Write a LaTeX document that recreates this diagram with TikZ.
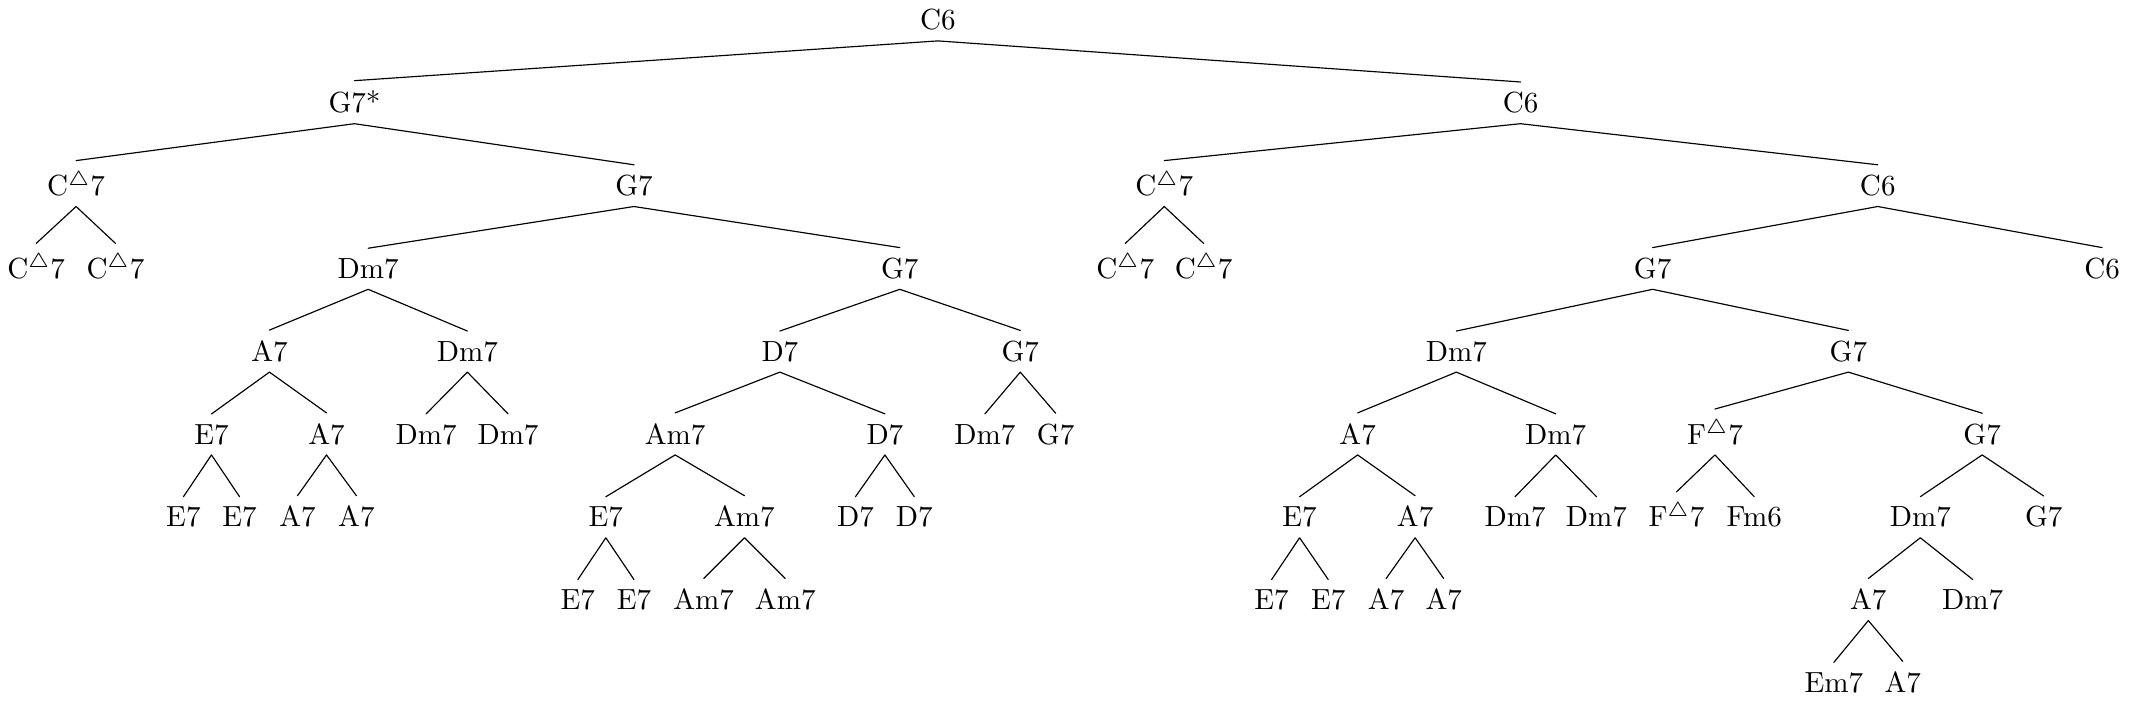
\documentclass[tikz,border=0pt]{standalone}
\usepackage{amsmath,amssymb}
\begin{document}
\begin{tikzpicture}[line cap=round,line join=round,chord/.style={anchor=base}]
\useasboundingbox (0,0.362) rectangle (25.71,-8.116);
% root and upper levels
\node[chord] (c) at (11.326,0) {C6};
\node[chord] (cl) at (4.281,-1) {G7*};
\node[chord] (cr) at (18.362,-1) {C6};
\node[chord] (cll) at (0.919,-2) {C$^\triangle$7};
\node[chord] (clr) at (7.656,-2) {G7};
\node[chord] (crl) at (14.060,-2) {C$^\triangle$7};
\node[chord] (crr) at (22.676,-2) {C6};
\node[chord] (clll) at (0.437,-3) {C$^\triangle$7};
\node[chord] (cllr) at (1.395,-3) {C$^\triangle$7};
\node[chord] (clrl) at (4.446,-3) {Dm7};
\node[chord] (clrr) at (10.866,-3) {G7};
\node[chord] (crll) at (13.589,-3) {C$^\triangle$7};
\node[chord] (crlr) at (14.535,-3) {C$^\triangle$7};
\node[chord] (crrl) at (19.957,-3) {G7};
\node[chord] (crrr) at (25.385,-3) {C6};
% left half
\node[chord] (clrll) at (3.254,-4) {A7};
\node[chord] (clrlr) at (5.644,-4) {Dm7};
\node[chord] (clrrl) at (9.418,-4) {D7};
\node[chord] (clrrr) at (12.321,-4) {G7};
\node[chord] (clrlll) at (2.554,-5) {E7};
\node[chord] (clrllr) at (3.943,-5) {A7};
\node[chord] (clrlrl) at (5.146,-5) {Dm7};
\node[chord] (clrlrr) at (6.135,-5) {Dm7};
\node[chord] (clrrll) at (8.153,-5) {Am7};
\node[chord] (clrrlr) at (10.686,-5) {D7};
\node[chord] (clrrrl) at (11.894,-5) {Dm7};
\node[chord] (clrrrr) at (12.748,-5) {G7};
\node[chord] (clrllll) at (2.215,-6) {E7};
\node[chord] (clrlllr) at (2.893,-6) {E7};
\node[chord] (clrllrl) at (3.593,-6) {A7};
\node[chord] (clrllrr) at (4.304,-6) {A7};
\node[chord] (clrrlll) at (7.316,-6) {E7};
\node[chord] (clrrllr) at (8.990,-6) {Am7};
\node[chord] (clrrlrl) at (10.331,-6) {D7};
\node[chord] (clrrlrr) at (11.041,-6) {D7};
\node[chord] (clrrllll) at (6.978,-7) {E7};
\node[chord] (clrrlllr) at (7.656,-7) {E7};
\node[chord] (clrrllrl) at (8.498,-7) {Am7};
\node[chord] (clrrllrr) at (9.483,-7) {Am7};
% right half
\node[chord] (crrll) at (17.587,-4) {Dm7};
\node[chord] (crrlr) at (22.321,-4) {G7};
\node[chord] (crrlll) at (16.395,-5) {A7};
\node[chord] (crrllr) at (18.787,-5) {Dm7};
\node[chord] (crrlrl) at (20.710,-5) {F$^\triangle$7};
\node[chord] (crrlrr) at (23.937,-5) {G7};
\node[chord] (crrllll) at (15.694,-6) {E7};
\node[chord] (crrlllr) at (17.089,-6) {A7};
\node[chord] (crrllrl) at (18.297,-6) {Dm7};
\node[chord] (crrllrr) at (19.279,-6) {Dm7};
\node[chord] (crrlrll) at (20.246,-6) {F$^\triangle$7};
\node[chord] (crrlrlr) at (21.185,-6) {Fm6};
\node[chord] (crrlrrl) at (23.190,-6) {Dm7};
\node[chord] (crrlrrr) at (24.680,-6) {G7};
\node[chord] (crrlllll) at (15.356,-7) {E7};
\node[chord] (crrllllr) at (16.040,-7) {E7};
\node[chord] (crrlllrl) at (16.739,-7) {A7};
\node[chord] (crrlllrr) at (17.434,-7) {A7};
\node[chord] (crrlrrll) at (22.562,-7) {A7};
\node[chord] (crrlrrlr) at (23.822,-7) {Dm7};
\node[chord] (crrlrrlll) at (22.146,-8) {Em7};
\node[chord] (crrlrrllr) at (22.977,-8) {A7};
% edges
\draw (c.south) -- (cl.north) (c.south) -- (cr.north);
\draw (cl.south) -- (cll.north) (cl.south) -- (clr.north);
\draw (cr.south) -- (crl.north) (cr.south) -- (crr.north);
\draw (cll.south) -- (clll.north) (cll.south) -- (cllr.north);
\draw (clr.south) -- (clrl.north) (clr.south) -- (clrr.north);
\draw (crl.south) -- (crll.north) (crl.south) -- (crlr.north);
\draw (crr.south) -- (crrl.north) (crr.south) -- (crrr.north);
\draw (clrl.south) -- (clrll.north) (clrl.south) -- (clrlr.north);
\draw (clrr.south) -- (clrrl.north) (clrr.south) -- (clrrr.north);
\draw (clrll.south) -- (clrlll.north) (clrll.south) -- (clrllr.north);
\draw (clrlr.south) -- (clrlrl.north) (clrlr.south) -- (clrlrr.north);
\draw (clrrl.south) -- (clrrll.north) (clrrl.south) -- (clrrlr.north);
\draw (clrrr.south) -- (clrrrl.north) (clrrr.south) -- (clrrrr.north);
\draw (clrlll.south) -- (clrllll.north) (clrlll.south) -- (clrlllr.north);
\draw (clrllr.south) -- (clrllrl.north) (clrllr.south) -- (clrllrr.north);
\draw (clrrll.south) -- (clrrlll.north) (clrrll.south) -- (clrrllr.north);
\draw (clrrlr.south) -- (clrrlrl.north) (clrrlr.south) -- (clrrlrr.north);
\draw (clrrlll.south) -- (clrrllll.north) (clrrlll.south) -- (clrrlllr.north);
\draw (clrrllr.south) -- (clrrllrl.north) (clrrllr.south) -- (clrrllrr.north);
\draw (crrl.south) -- (crrll.north) (crrl.south) -- (crrlr.north);
\draw (crrll.south) -- (crrlll.north) (crrll.south) -- (crrllr.north);
\draw (crrlr.south) -- (crrlrl.north) (crrlr.south) -- (crrlrr.north);
\draw (crrlll.south) -- (crrllll.north) (crrlll.south) -- (crrlllr.north);
\draw (crrllr.south) -- (crrllrl.north) (crrllr.south) -- (crrllrr.north);
\draw (crrlrl.south) -- (crrlrll.north) (crrlrl.south) -- (crrlrlr.north);
\draw (crrlrr.south) -- (crrlrrl.north) (crrlrr.south) -- (crrlrrr.north);
\draw (crrllll.south) -- (crrlllll.north) (crrllll.south) -- (crrllllr.north);
\draw (crrlllr.south) -- (crrlllrl.north) (crrlllr.south) -- (crrlllrr.north);
\draw (crrlrrl.south) -- (crrlrrll.north) (crrlrrl.south) -- (crrlrrlr.north);
\draw (crrlrrll.south) -- (crrlrrlll.north) (crrlrrll.south) -- (crrlrrllr.north);
\end{tikzpicture}
\end{document}
